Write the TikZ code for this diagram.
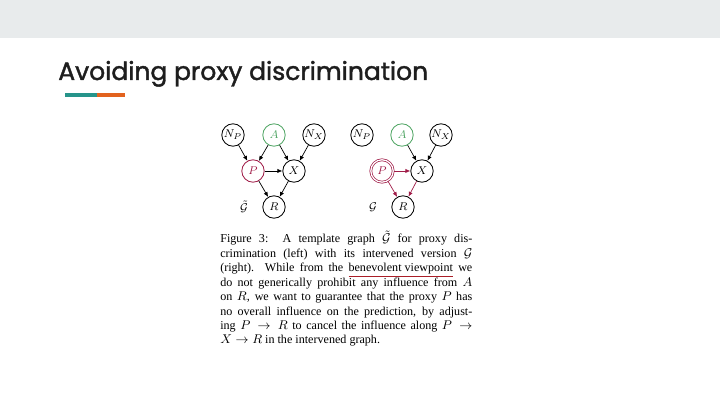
\documentclass[tikz,border=0pt]{standalone}
\usepackage{fontspec}
\setmainfont{Liberation Serif}
\newfontfamily\titlefont[FakeBold=1.6]{Poppins}
\usetikzlibrary{positioning}
\usetikzlibrary{arrows.meta}
\definecolor{bandgray}{RGB}{232,235,236}
\definecolor{titlegray}{RGB}{30,30,30}
\definecolor{barteal}{RGB}{38,148,138}
\definecolor{barorange}{RGB}{226,98,30}
\definecolor{nodegreen}{RGB}{80,165,100}
\definecolor{nodered}{RGB}{160,28,72}
\definecolor{ulred}{RGB}{170,30,40}
\newcommand\redul[1]{\textcolor{ulred}{\underline{\textcolor{black}{#1}}}}
\tikzset{
    gnode/.style = {circle, line width=0.6pt, draw=black, align=center, minimum size=0.56cm, inner sep=0pt, font=\fontsize{8}{9}\selectfont, text=black},
    gnodeg/.style = {gnode, draw=nodegreen, text=nodegreen},
    gnoder/.style = {gnode, draw=nodered, text=nodered},
    gnoderd/.style = {gnoder, double=white, double distance=0.9pt, line width=0.5pt},
    edgek/.style = {-{Latex[length=3.5pt,width=3pt]}, line width=0.5pt, black},
    edger/.style = {-{Latex[length=3.5pt,width=3pt]}, line width=0.5pt, nodered},
    glabel/.style = {inner sep=0pt, font=\fontsize{8.5}{10}\selectfont}
}
\begin{document}
\begin{tikzpicture}[x=0.025cm,y=0.025cm]
\fill[bandgray] (0,367) rectangle (720,405);
\node[anchor=base west, inner sep=0pt, text=titlegray, font=\titlefont\fontsize{17.8}{20}\selectfont] at (58,325) (title) {Avoiding proxy discrimination};
\fill[barteal] (65,308) rectangle (97,312);
\fill[barorange] (97,308) rectangle (125,312);

% template graph (left)
\node[gnode] at (233,270) (np1) {$N_P$};
\node[gnodeg] at (274,270) (a1) {$A$};
\node[gnode] at (314,270) (nx1) {$N_X$};
\node[gnoder] at (253,234) (p1) {$P$};
\node[gnode] at (294,234) (x1) {$X$};
\node[gnode] at (274,198) (r1) {$R$};
\node[glabel] at (244,198) (g1) {$\tilde{\mathcal{G}}$};
%
\draw[edgek] (np1) edge (p1);
\draw[edgek] (a1) edge (p1);
\draw[edgek] (a1) edge (x1);
\draw[edgek] (nx1) edge (x1);
\draw[edgek] (p1) edge (x1);
\draw[edgek] (p1) edge (r1);
\draw[edgek] (x1) edge (r1);

% intervened graph (right)
\node[gnode] at (362,270) (np2) {$N_P$};
\node[gnodeg] at (402,270) (a2) {$A$};
\node[gnode] at (441,270) (nx2) {$N_X$};
\node[gnoderd] at (382,234) (p2) {$P$};
\node[gnode] at (422,234) (x2) {$X$};
\node[gnode] at (403,198) (r2) {$R$};
\node[glabel] at (373,198) (g2) {$\mathcal{G}$};
%
\draw[edgek] (a2) edge (x2);
\draw[edgek] (nx2) edge (x2);
\draw[edger] (p2) edge (x2);
\draw[edger] (p2) edge (r2);
\draw[edger] (x2) edge (r2);

% caption
\node[anchor=north west, inner sep=0pt, text width=6.3cm, align=justify, font=\fontsize{8.6}{10.25}\selectfont] at (220,174) (cap) {Figure 3:\ \ A template graph $\tilde{\mathcal{G}}$ for proxy dis-\linebreak crimination (left) with its intervened version $\mathcal{G}$\linebreak (right). While from the \redul{benevolent viewpoint} we\linebreak do not generically prohibit any influence from $A$\linebreak on $R$, we want to guarantee that the proxy $P$ has\linebreak no overall influence on the prediction, by adjust-\linebreak ing $P \to R$ to cancel the influence along $P \to$\linebreak $X \to R$ in the intervened graph.};

\path[use as bounding box] (0,0) rectangle (720,405);
\end{tikzpicture}
\end{document}
